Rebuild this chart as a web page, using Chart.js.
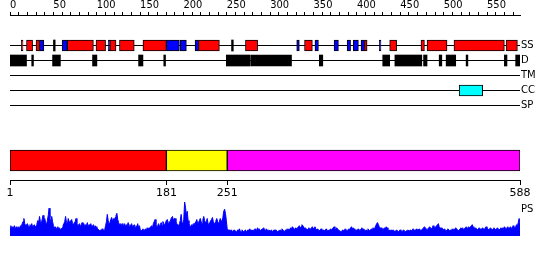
<!DOCTYPE html>
<html>
<head>
<meta charset="utf-8">
<script src="https://cdn.jsdelivr.net/npm/chart.js@4/dist/chart.umd.min.js"></script>
<style>
  body { margin: 0; background: #fff; width: 550px; height: 260px; position: relative; overflow: hidden; }
  canvas { position: absolute; left: 0; }
  #ps-label { position: absolute; left: 521px; top: 203px; font: 10px "DejaVu Sans", sans-serif; color: #000; }
</style>
</head>
<body>
<canvas id="ruler" width="550" height="20" style="top:0"></canvas>
<canvas id="tracks" width="550" height="90" style="top:30px"></canvas>
<canvas id="domains" width="550" height="75" style="top:130px"></canvas>
<canvas id="profile" width="550" height="45" style="top:195px"></canvas>
<div id="ps-label">PS</div>
<script>
// sequence length and tick labels
const seqLength = 588;
const rulerLabels = [0, 50, 100, 150, 200, 250, 300, 350, 400, 450, 500, 550];
const rulerStep = 10;
const trackNames = ['SS', 'D', 'TM', 'CC', 'SP'];

// secondary structure (residue ranges)
const ssHelix = [[14, 16], [20, 27], [31, 35], [67, 97], [100, 111], [116, 123], [127, 144], [154, 181],
  [218, 242], [272, 286], [340, 349], [409, 412], [438, 446], [474, 478], [481, 504], [512, 570], [572, 585]];
const ssStrand = [[35, 40], [61, 67], [114, 116], [181, 196], [197, 204], [214, 218], [331, 334], [352, 356],
  [374, 379], [389, 393], [396, 402], [405, 409], [426, 428]];
const ssMarks = [52, 257];

// disorder
const disorder = [[1, 20], [50, 59], [96, 101], [149, 154], [250, 277], [278, 325], [357, 361], [430, 438],
  [444, 475], [477, 481], [495, 498], [503, 514], [570, 573], [583, 588]];
const disorderMarks = [27, 179, 527];

// coiled coil
const coiledCoil = [[518, 545]];

// domains
const domainRanges = [[1, 181], [181, 251], [251, 588]];
const domainColors = ['#ff0000', '#ffff00', '#ff00ff'];
const domainTicks = [1, 181, 251, 588];

// PS profile, one value per residue
const psValues = [
  8, 10, 7, 9, 8, 10, 6, 9, 7, 8,
  9, 7, 10, 9, 12, 14, 17, 12, 10, 11,
  12, 10, 9, 11, 10, 12, 9, 10, 11, 9,
  10, 12, 15, 13, 19, 14, 12, 16, 20, 15,
  17, 13, 11, 15, 20, 27, 18, 12, 19, 14,
  10, 8, 9, 7, 8, 9, 7, 8, 6, 7,
  8, 10, 12, 14, 19, 13, 11, 17, 14, 12,
  15, 16, 12, 11, 13, 14, 17, 12, 10, 11,
  12, 9, 11, 13, 10, 12, 9, 11, 10, 13,
  9, 11, 10, 12, 9, 10, 11, 8, 10, 9,
  8, 7, 6, 5, 6, 5, 7, 6, 5, 6,
  10, 14, 21, 15, 12, 13, 16, 18, 14, 17,
  15, 18, 20, 22, 16, 13, 11, 12, 10, 12,
  11, 10, 12, 9, 11, 10, 13, 9, 11, 10,
  12, 9, 10, 11, 8, 10, 9, 12, 8, 10,
  6, 5, 6, 7, 5, 6, 7, 6, 8, 7,
  8, 7, 9, 10, 8, 12, 14, 16, 11, 9,
  10, 12, 9, 11, 13, 10, 14, 12, 10, 13,
  15, 16, 12, 14, 13, 16, 18, 19, 15, 17,
  17, 14, 12, 11, 10, 12, 15, 21, 13, 11,
  16, 33, 28, 20, 24, 15, 12, 10, 9, 11,
  10, 12, 11, 13, 14, 16, 12, 13, 15, 17,
  14, 12, 16, 19, 15, 13, 14, 17, 12, 11,
  13, 15, 16, 18, 14, 12, 13, 15, 17, 14,
  12, 14, 17, 15, 13, 18, 24, 26, 22, 15,
  7, 6, 5, 6, 5, 6, 4, 5, 6, 5,
  5, 4, 6, 5, 7, 5, 4, 6, 5, 4,
  5, 6, 4, 5, 6, 5, 7, 5, 6, 5,
  6, 5, 7, 6, 5, 8, 6, 7, 5, 6,
  6, 7, 8, 6, 5, 7, 6, 5, 6, 5,
  5, 6, 4, 5, 6, 5, 6, 5, 4, 5,
  5, 6, 5, 7, 6, 5, 4, 6, 5, 7,
  6, 7, 6, 8, 7, 9, 8, 7, 6, 8,
  7, 8, 9, 10, 8, 9, 11, 10, 9, 7,
  8, 7, 6, 7, 8, 6, 7, 8, 9, 7,
  8, 9, 7, 6, 7, 6, 5, 6, 7, 6,
  5, 6, 5, 6, 7, 5, 6, 5, 6, 7,
  6, 7, 8, 9, 7, 6, 8, 7, 6, 5,
  5, 4, 5, 6, 5, 6, 7, 6, 5, 6,
  7, 6, 8, 9, 7, 8, 7, 6, 5, 6,
  6, 7, 6, 5, 7, 8, 6, 7, 6, 5,
  6, 5, 7, 6, 5, 6, 7, 6, 8, 7,
  8, 10, 12, 13, 11, 9, 8, 7, 8, 6,
  7, 8, 7, 9, 8, 6, 5, 6, 5, 6,
  5, 6, 5, 4, 5, 6, 5, 4, 5, 6,
  5, 4, 5, 6, 5, 4, 5, 5, 6, 5,
  5, 6, 5, 6, 7, 6, 5, 6, 7, 6,
  6, 7, 6, 5, 6, 7, 8, 9, 8, 7,
  6, 7, 8, 9, 8, 7, 8, 10, 9, 8,
  9, 10, 11, 12, 9, 8, 7, 8, 7, 6,
  7, 6, 5, 6, 7, 6, 5, 6, 5, 7,
  6, 7, 6, 8, 7, 6, 5, 6, 7, 8,
  7, 8, 6, 7, 8, 9, 8, 7, 9, 8,
  9, 10, 11, 9, 8, 7, 8, 7, 6, 7,
  8, 7, 6, 7, 8, 7, 6, 8, 9, 8,
  7, 6, 7, 8, 7, 6, 7, 8, 7, 6,
  7, 8, 7, 6, 7, 8, 7, 8, 7, 9,
  8, 7, 8, 9, 7, 8, 9, 8, 7, 10,
  9, 8, 9, 11, 10, 13, 17, 12
];
const psMax = 33;

Chart.defaults.animation = false;
Chart.defaults.font.family = '"DejaVu Sans", sans-serif';
Chart.defaults.color = '#000';

// top ruler
const rulerTicks = [];
for (let v = 0; v < seqLength; v += rulerStep) rulerTicks.push(v);

new Chart(document.getElementById('ruler'), {
  type: 'scatter',
  data: { datasets: [] },
  options: {
    responsive: false,
    layout: { padding: { left: 10, right: 30, top: 0, bottom: 0 } },
    plugins: { legend: { display: false }, tooltip: { enabled: false } },
    scales: {
      x: {
        type: 'linear', position: 'top', min: 0, max: seqLength,
        afterBuildTicks: scale => { scale.ticks = rulerTicks.map(v => ({ value: v })); },
        afterFit: scale => { scale.height = 15; },
        border: { color: '#000', width: 1 },
        grid: { drawOnChartArea: false, tickLength: 3, color: '#000' },
        ticks: {
          autoSkip: false, maxRotation: 0, align: 'start', padding: 0,
          font: { family: '"Liberation Sans Narrow", "DejaVu Sans Condensed", sans-serif', size: 11 },
          callback: v => rulerLabels.includes(v) ? String(v) : ''
        }
      },
      y: { display: false }
    }
  }
});

// feature tracks
const toBars = (ranges, track) => ranges.map(([s, e]) => ({ y: track, x: [s, e] }));
const toMarks = (points, track) => points.map(r => ({ y: track, x: [r - 1, r + 1] }));

const trackDataset = (data, fill, border) => ({
  data: data,
  backgroundColor: fill,
  borderColor: '#000',
  borderWidth: border,
  borderSkipped: false,
  barThickness: 11,
  grouped: false
});

new Chart(document.getElementById('tracks'), {
  type: 'bar',
  data: {
    labels: trackNames,
    datasets: [
      trackDataset(toBars(ssHelix, 'SS'), '#ff0000', 1),
      trackDataset(toBars(ssStrand, 'SS'), '#0000ff', 1),
      trackDataset(toMarks(ssMarks, 'SS'), '#000', 0),
      trackDataset(toBars(disorder, 'D'), '#000', 0),
      trackDataset(toMarks(disorderMarks, 'D'), '#000', 0),
      trackDataset(toBars(coiledCoil, 'CC'), '#00ffff', 1)
    ]
  },
  options: {
    indexAxis: 'y',
    responsive: false,
    layout: { padding: { left: 10, right: 0, top: 8, bottom: 7 } },
    plugins: { legend: { display: false }, tooltip: { enabled: false } },
    scales: {
      x: { type: 'linear', display: false, min: 1, max: seqLength },
      y: {
        position: 'right',
        afterFit: scale => { scale.width = 30; },
        border: { display: false },
        grid: { offset: false, drawTicks: false, color: '#000', lineWidth: 1 },
        ticks: { padding: 1, font: { size: 10 } }
      }
    }
  }
});

// domain bar
new Chart(document.getElementById('domains'), {
  type: 'bar',
  data: {
    labels: ['domains'],
    datasets: domainRanges.map((r, i) => ({
      data: [r],
      backgroundColor: domainColors[i],
      borderColor: '#000',
      borderWidth: 1,
      borderSkipped: false,
      barThickness: 21,
      grouped: false
    }))
  },
  options: {
    indexAxis: 'y',
    responsive: false,
    layout: { padding: { left: 10, right: 30, top: 11, bottom: 0 } },
    plugins: { legend: { display: false }, tooltip: { enabled: false } },
    scales: {
      x: {
        type: 'linear', position: 'bottom', min: 1, max: seqLength,
        afterBuildTicks: scale => { scale.ticks = domainTicks.map(v => ({ value: v })); },
        afterFit: scale => { scale.height = 25; },
        border: { color: '#000', width: 1 },
        grid: { drawOnChartArea: false, tickLength: 5, color: '#000' },
        ticks: { autoSkip: false, maxRotation: 0, padding: 2, font: { size: 11 } }
      },
      y: { display: false }
    }
  }
});

// PS profile
new Chart(document.getElementById('profile'), {
  type: 'line',
  data: {
    datasets: [{
      data: psValues.map((v, i) => ({ x: i + 1, y: v })),
      borderColor: '#0000ff',
      backgroundColor: '#0000ff',
      borderWidth: 1,
      pointRadius: 0,
      tension: 0,
      fill: 'origin'
    }]
  },
  options: {
    responsive: false,
    layout: { padding: { left: 10, right: 30, top: 7, bottom: 4 } },
    plugins: { legend: { display: false }, tooltip: { enabled: false } },
    scales: {
      x: { type: 'linear', display: false, min: 1, max: seqLength },
      y: { display: false, min: 0, max: psMax }
    }
  }
});
</script>
</body>
</html>
